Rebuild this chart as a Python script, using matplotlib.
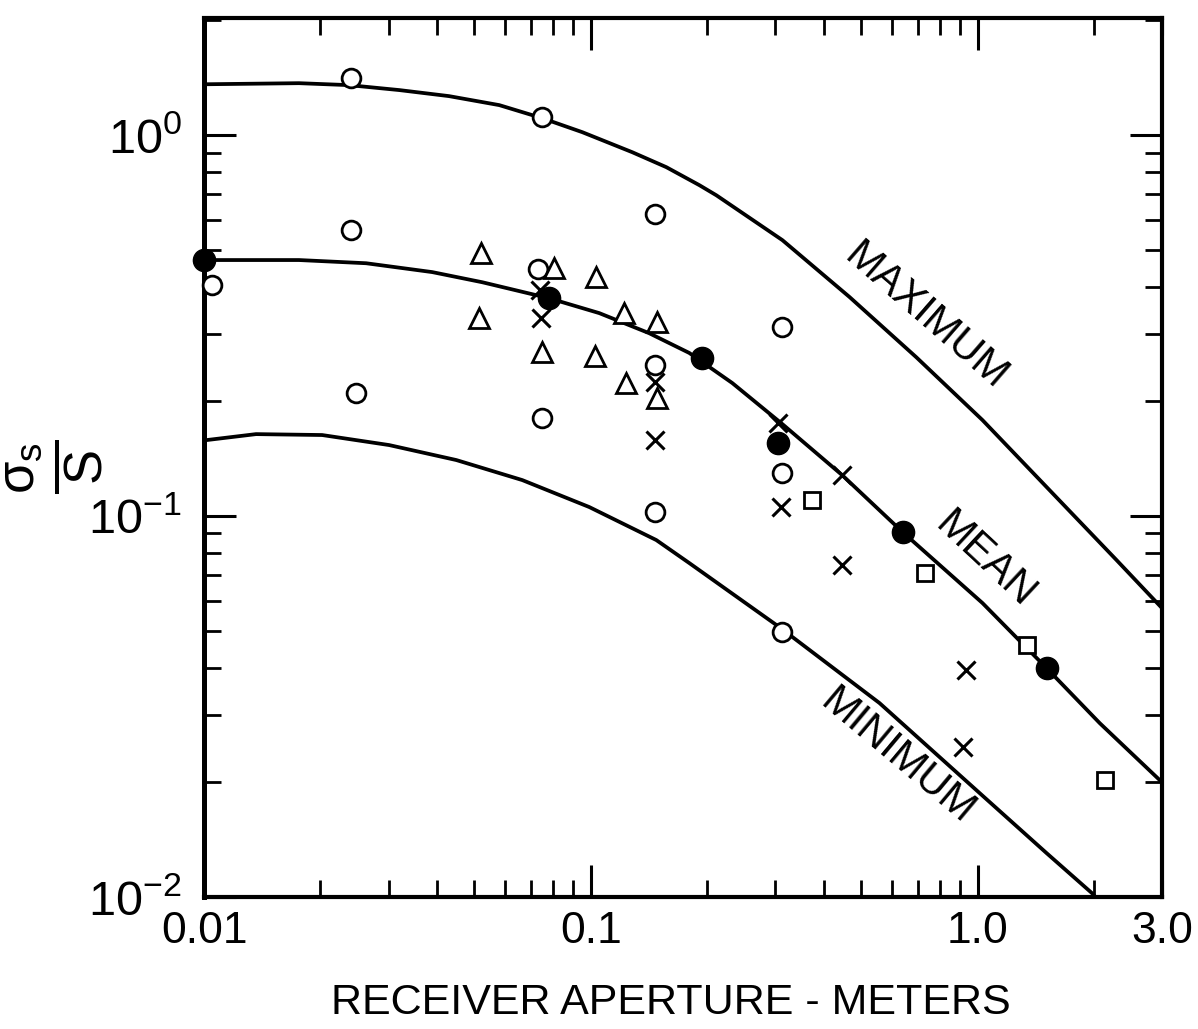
import matplotlib
matplotlib.use('Agg')
import matplotlib.pyplot as plt
from matplotlib.ticker import FixedLocator, NullFormatter

# curves (aperture in m, sigma_s/S)
max_x = [0.01, 0.0176, 0.0237, 0.032, 0.043, 0.058, 0.0749, 0.0951, 0.128, 0.1568, 0.1909, 0.2113,
         0.313, 0.4665, 0.695, 1.03, 1.535, 2.289, 3.0]
max_y = [1.36, 1.369, 1.353, 1.313, 1.266, 1.199, 1.108, 1.018, 0.902, 0.824, 0.739, 0.695,
         0.530, 0.376, 0.261, 0.1786, 0.117, 0.0766, 0.0573]

mean_x = [0.01, 0.0176, 0.02625, 0.0389, 0.0524, 0.0781, 0.1052, 0.1416, 0.1798, 0.2323,
          0.313, 0.447, 0.640, 1.03, 1.508, 2.07, 3.0]
mean_y = [0.470, 0.470, 0.461, 0.437, 0.411, 0.373, 0.341, 0.302, 0.268, 0.2234,
          0.1743, 0.128, 0.0908, 0.0591, 0.0399, 0.0286, 0.0200]

min_x = [0.01, 0.01363, 0.0202, 0.0301, 0.0449, 0.0665, 0.0991, 0.1477, 0.180, 0.3074,
         0.5577, 1.012, 1.508, 1.984, 2.2]
min_y = [0.158, 0.1641, 0.1632, 0.1536, 0.1403, 0.1243, 0.1056, 0.0865, 0.0752, 0.0511,
         0.0323, 0.01875, 0.01304, 0.0102, 0.0090]

# measured points
open_circ_x = [0.0240, 0.0749, 0.0240, 0.0247, 0.0105, 0.0731, 0.0749, 0.147, 0.147, 0.147, 0.313, 0.313, 0.313]
open_circ_y = [1.41, 1.115, 0.563, 0.210, 0.404, 0.445, 0.181, 0.621, 0.249, 0.1024, 0.313, 0.130, 0.0496]

filled_x = [0.01, 0.0781, 0.1943, 0.304, 0.640, 1.508]
filled_y = [0.470, 0.373, 0.260, 0.1555, 0.0908, 0.0399]

tri_x = [0.0521, 0.0515, 0.0804, 0.1033, 0.1221, 0.1486, 0.0749, 0.1027, 0.1236, 0.1486]
tri_y = [0.490, 0.331, 0.448, 0.424, 0.341, 0.323, 0.2695, 0.263, 0.2235, 0.204]

cross_x = [0.0740, 0.0745, 0.147, 0.147, 0.304, 0.31, 0.447, 0.447, 0.936, 0.915]
cross_y = [0.392, 0.331, 0.225, 0.1583, 0.1754, 0.1056, 0.128, 0.0744, 0.0394, 0.0248]

sq_x = [0.374, 0.730, 1.339, 2.13]
sq_y = [0.110, 0.0709, 0.0459, 0.0203]

x_ticks = [0.01, 0.1, 1.0, 3.0]
x_tick_labels = ['0.01', '0.1', '1.0', '3.0']
y_ticks = [0.01, 0.1, 1.0]
y_tick_labels = [r'$\mathregular{10^{-2}}$', r'$\mathregular{10^{-1}}$', r'$\mathregular{10^{0}}$']
minor_ticks = [0.02, 0.03, 0.04, 0.05, 0.06, 0.07, 0.08, 0.09,
               0.2, 0.3, 0.4, 0.5, 0.6, 0.7, 0.8, 0.9, 2.0]

plt.rcParams['font.family'] = ['Liberation Sans', 'DejaVu Sans']
plt.rcParams['mathtext.fontset'] = 'custom'
plt.rcParams['mathtext.rm'] = 'Liberation Sans'
plt.rcParams['mathtext.it'] = 'Liberation Sans'

fig = plt.figure(figsize=(11.98, 10.29), dpi=100)
ax = fig.add_axes([0.1703, 0.1283, 0.7997, 0.8542])
ax.set_xscale('log')
ax.set_yscale('log')
ax.set_xlim(0.01, 3.0)
ax.set_ylim(0.01, 2.03)

lw = 2.7
for cx, cy in [(max_x, max_y), (mean_x, mean_y), (min_x, min_y)]:
    ax.plot(cx, cy, color='black', lw=lw, solid_joinstyle='round')

ax.plot(open_circ_x, open_circ_y, 'o', ms=13.5, mfc='white', mec='black', mew=2.0, clip_on=False, zorder=3)
ax.plot(tri_x, tri_y, '^', ms=14, mfc='white', mec='black', mew=2.0, zorder=3)
ax.plot(cross_x, cross_y, 'x', ms=13, mec='black', mew=2.2, zorder=3)
ax.plot(sq_x, sq_y, 's', ms=12, mfc='white', mec='black', mew=2.0, zorder=3)
ax.plot(filled_x, filled_y, 'o', ms=16, color='black', clip_on=False, zorder=4)

ax.text(0.734, 0.333, 'MAXIMUM', rotation=-41, rotation_mode='anchor', ha='center', va='center', fontsize=30)
ax.text(1.043, 0.0766, 'MEAN', rotation=-43, rotation_mode='anchor', ha='center', va='center', fontsize=30)
ax.text(0.621, 0.0233, 'MINIMUM', rotation=-40, rotation_mode='anchor', ha='center', va='center', fontsize=30)

ax.xaxis.set_major_locator(FixedLocator(x_ticks))
ax.set_xticklabels(x_tick_labels)
ax.xaxis.set_minor_locator(FixedLocator(minor_ticks))
ax.xaxis.set_minor_formatter(NullFormatter())
ax.yaxis.set_major_locator(FixedLocator(y_ticks))
ax.set_yticklabels(y_tick_labels)
ax.yaxis.set_minor_locator(FixedLocator(minor_ticks))
ax.yaxis.set_minor_formatter(NullFormatter())

ax.tick_params(which='major', direction='in', length=23, width=2.2, top=True, right=True)
ax.tick_params(which='minor', direction='in', length=12, width=2.0, top=True, right=True)
ax.tick_params(axis='x', which='major', pad=10, labelsize=32)
ax.tick_params(axis='y', which='major', pad=16, labelsize=35)
# 3.0 tick is drawn as a short one
t = ax.xaxis.get_major_ticks()[3]
t.tick1line.set_markersize(12)
t.tick2line.set_markersize(12)

for s in ax.spines.values():
    s.set_linewidth(3.0)
ax.spines['left'].set_linewidth(3.6)

ax.text(-0.1555, 0.49, r'$\mathregular{\frac{\sigma_s}{S}}$', transform=ax.transAxes,
        rotation=90, ha='center', va='center', fontsize=54)
ax.text(0.4875, -0.1206, 'RECEIVER APERTURE - METERS', transform=ax.transAxes,
        ha='center', va='center', fontsize=31)

fig.savefig('out.png', dpi=100)
